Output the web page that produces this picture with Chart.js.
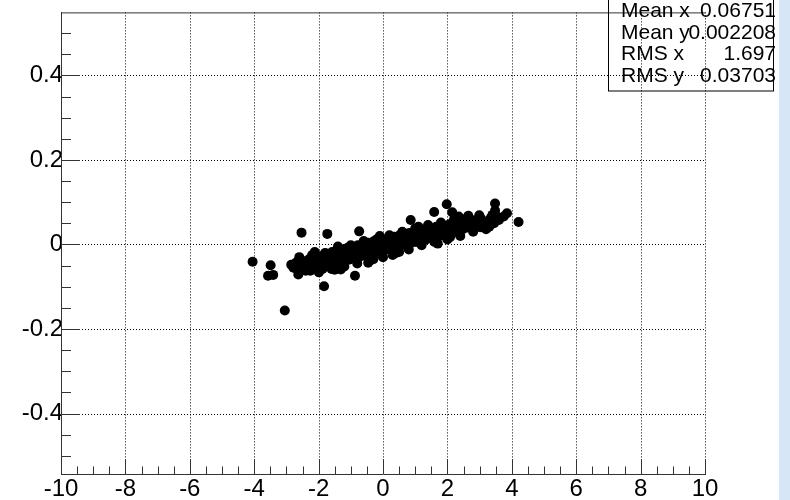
<!DOCTYPE html>
<html>
<head>
<meta charset="utf-8">
<script src="https://cdn.jsdelivr.net/npm/chart.js@4.4.0/dist/chart.umd.min.js"></script>
<style>
  html, body { margin: 0; padding: 0; background: #fff; }
  #wrap { position: relative; width: 790px; height: 500px; }
</style>
</head>
<body>
<div id="wrap"><canvas id="chart" width="790" height="500"></canvas></div>
<script>
// points (x, y pairs split into two lists)
const xValues = [
    -2.85, -2.78, -2.70, -2.65, -2.58, -2.52, -2.47, -2.40, -2.35, -2.30, -2.26, -2.20, -2.15, -2.10, -2.06,
    -2.00, -1.96, -1.92, -1.88, -1.83, -1.78, -1.74, -1.70, -1.66, -1.62, -1.58, -1.54, -1.50, -1.46, -1.42,
    -1.38, -1.34, -1.30, -1.26, -1.22, -1.18, -1.14, -1.10, -1.06, -1.02, -0.98, -0.94, -0.90, -0.86, -0.82,
    -0.78, -0.74, -0.70, -0.66, -0.62, -0.58, -0.54, -0.50, -0.46, -0.42, -0.38, -0.34, -0.30, -0.26, -0.22,
    -0.18, -0.14, -0.10, -0.06, -0.02, 0.02, 0.06, 0.10, 0.14, 0.18, 0.22, 0.26, 0.30, 0.34, 0.38,
    0.42, 0.46, 0.50, 0.54, 0.58, 0.62, 0.66, 0.70, 0.74, 0.78, 0.82, 0.86, 0.90, 0.94, 0.98,
    1.02, 1.06, 1.10, 1.14, 1.18, 1.22, 1.26, 1.30, 1.34, 1.38, 1.42, 1.46, 1.50, 1.55, 1.60,
    1.65, 1.70, 1.75, 1.80, 1.85, 1.90, 1.95, 2.00, 2.06, 2.12, 2.18, 2.24, 2.30, 2.36, 2.42,
    2.48, 2.55, 2.62, 2.70, 2.78, 2.86, 2.95, 3.05, 3.15, 3.25, 3.35, 3.45, 3.60, 3.75,
    -2.60, -2.40, -2.20, -2.00, -1.80, -1.60, -1.40, -1.20, -1.00, -0.80, -0.60, -0.40, -0.20, 0.00, 0.20,
    0.40, 0.60, 0.80, 1.00, 1.20, 1.40, 1.60, 1.80, 2.00, 2.20, 2.40, 2.60, 2.80, 3.00, 3.20,
    3.40, 3.30, -0.10, 0.50, 1.10, -1.50, -0.30, 1.70,
    -4.05, -3.49, -3.57, -3.41, -3.05, -2.53, -1.73, -0.74, 0.86, 1.59, 1.98, 2.15, 3.48, 3.48, 3.85,
    4.21, -1.83, -2.63, -0.87, -0.46, -1.31, -1.99, 0.30, 3.59, 2.96, -2.12, 2.35, 2.65, 2.99, 2.08, 3.02
];
const yValues = [
    -0.048, -0.055, -0.043, -0.060, -0.050, -0.038, -0.057, -0.045, -0.052, -0.035, -0.062, -0.041, -0.049, -0.030, -0.055,
    -0.038, -0.046, -0.028, -0.058, -0.035, -0.043, -0.022, -0.050, -0.031, -0.040, -0.018, -0.047, -0.027, -0.036, -0.015,
    -0.044, -0.024, -0.032, -0.012, -0.040, -0.020, -0.029, -0.008, -0.036, -0.017, -0.026, -0.005, -0.033, -0.014, -0.022,
    -0.002, -0.030, -0.010, -0.019, 0.001, -0.026, -0.007, -0.016, 0.004, -0.023, -0.004, -0.012, 0.007, -0.020, -0.001,
    -0.009, 0.010, -0.016, 0.002, -0.006, 0.012, -0.013, 0.005, -0.003, 0.015, -0.010, 0.008, 0.000, 0.018, -0.006,
    0.011, 0.003, 0.021, -0.003, 0.014, 0.006, 0.024, 0.000, 0.017, 0.009, 0.027, 0.003, 0.020, 0.012, 0.030,
    0.006, 0.023, 0.015, 0.033, 0.009, 0.026, 0.018, 0.036, 0.012, 0.029, 0.021, 0.039, 0.015, 0.032, 0.024,
    0.042, 0.018, 0.035, 0.027, 0.045, 0.021, 0.038, 0.030, 0.048, 0.024, 0.041, 0.033, 0.051, 0.028, 0.044,
    0.036, 0.054, 0.040, 0.047, 0.057, 0.043, 0.050, 0.060, 0.046, 0.055, 0.063, 0.050, 0.058, 0.066,
    -0.030, -0.062, -0.025, -0.064, -0.020, -0.058, -0.005, -0.052, -0.002, -0.045, 0.008, -0.038, 0.012, -0.030, 0.022,
    -0.020, 0.030, -0.012, 0.038, -0.002, 0.046, 0.006, 0.052, 0.012, 0.058, 0.020, 0.062, 0.030, 0.066, 0.036,
    0.070, 0.042, 0.020, -0.018, 0.042, -0.060, -0.035, 0.002,
    -0.041, -0.049, -0.074, -0.072, -0.156, 0.028, 0.025, 0.031, 0.058, 0.077, 0.095, 0.076, 0.097, 0.080, 0.074,
    0.053, -0.099, -0.071, -0.074, -0.043, -0.059, -0.066, -0.025, 0.064, 0.057, -0.018, 0.066, 0.068, 0.069, 0.017, 0.041
];
const xTicks = [-10, -8, -6, -4, -2, 0, 2, 4, 6, 8, 10];
const yTicks = [-0.4, -0.2, 0, 0.2, 0.4];
const statsLabels = ['Mean x', 'Mean y', 'RMS x', 'RMS y'];
const statsValues = ['0.06751', '0.002208', '1.697', '0.03703'];

const FONT = '"Liberation Sans", Arial, Helvetica, sans-serif';
const points = xValues.map((x, i) => ({x: x, y: yValues[i]}));

// white page, blue strip on the right edge, dotted grid under the markers
const backdrop = {
    id: 'backdrop',
    beforeDraw(chart) {
        const ctx = chart.ctx;
        ctx.save();
        ctx.fillStyle = '#ffffff';
        ctx.fillRect(0, 0, chart.width, chart.height);
        ctx.fillStyle = '#d6e6f7';
        ctx.fillRect(779, 0, chart.width - 779, chart.height);
        ctx.restore();
    },
    beforeDatasetsDraw(chart) {
        const ctx = chart.ctx;
        const xs = chart.scales.x, ys = chart.scales.y;
        const a = chart.chartArea;
        ctx.save();
        ctx.strokeStyle = '#000';
        ctx.lineWidth = 1;
        ctx.setLineDash([1, 2]);
        ctx.beginPath();
        xTicks.forEach(v => {
            if (v === xs.min) return;
            const px = Math.round(xs.getPixelForValue(v)) + 0.5;
            ctx.moveTo(px, a.top);
            ctx.lineTo(px, a.bottom);
        });
        yTicks.forEach(v => {
            const py = Math.round(ys.getPixelForValue(v)) + 0.5;
            ctx.moveTo(a.left, py);
            ctx.lineTo(a.right, py);
        });
        ctx.stroke();
        ctx.restore();
    }
};

// inner tick marks, top frame line and the stats box
const decor = {
    id: 'decor',
    afterDraw(chart) {
        const ctx = chart.ctx;
        const xs = chart.scales.x, ys = chart.scales.y;
        const a = chart.chartArea;
        ctx.save();
        ctx.strokeStyle = '#333';
        ctx.lineWidth = 1;
        ctx.beginPath();
        for (let v = xs.min; v <= xs.max + 1e-9; v += 0.5) {
            const px = Math.round(xs.getPixelForValue(v)) + 0.5;
            const major = Math.abs(v / 2 - Math.round(v / 2)) < 1e-6;
            ctx.moveTo(px, a.bottom);
            ctx.lineTo(px, a.bottom - (major ? 15 : 7.5));
        }
        const yStart = Math.ceil(ys.min / 0.05) * 0.05;
        for (let v = yStart; v <= ys.max + 1e-9; v += 0.05) {
            const py = Math.round(ys.getPixelForValue(v)) + 0.5;
            const major = Math.abs(v / 0.2 - Math.round(v / 0.2)) < 1e-6;
            ctx.moveTo(a.left, py);
            ctx.lineTo(a.left + (major ? 19 : 10), py);
        }
        // top frame
        ctx.moveTo(a.left, a.top + 0.5);
        ctx.lineTo(a.right, a.top + 0.5);
        ctx.stroke();

        // stats box
        ctx.strokeStyle = '#000';
        ctx.strokeRect(608.5, -1, 165, 92);
        ctx.fillStyle = '#000';
        ctx.font = '21px ' + FONT;
        ctx.textBaseline = 'alphabetic';
        const baselines = [17, 38.5, 60, 81.5];
        statsLabels.forEach((t, i) => {
            ctx.textAlign = 'left';
            ctx.fillText(t, 621, baselines[i]);
            ctx.textAlign = 'right';
            ctx.fillText(statsValues[i], 776, baselines[i]);
        });
        ctx.restore();
    }
};

new Chart(document.getElementById('chart'), {
    type: 'scatter',
    data: {
        datasets: [{
            data: points,
            backgroundColor: '#000',
            borderWidth: 0,
            pointRadius: 5,
            pointHoverRadius: 5
        }]
    },
    options: {
        responsive: false,
        animation: false,
        devicePixelRatio: 1,
        layout: { padding: { top: 7, right: 85, left: 0, bottom: 0 } },
        plugins: { legend: { display: false }, tooltip: { enabled: false } },
        scales: {
            x: {
                type: 'linear',
                min: -10,
                max: 10,
                afterBuildTicks: s => { s.ticks = xTicks.map(v => ({value: v})); },
                afterFit: s => { s.height = 26; },
                grid: { display: false, drawTicks: false },
                border: { display: true, color: '#333', width: 1 },
                ticks: {
                    color: '#000',
                    padding: 1,
                    font: { family: FONT, size: 24 },
                    maxRotation: 0,
                    autoSkip: false,
                    callback: v => String(v)
                }
            },
            y: {
                type: 'linear',
                min: -0.543,
                max: 0.549,
                afterBuildTicks: s => { s.ticks = yTicks.map(v => ({value: v})); },
                afterFit: s => { s.width = 61; },
                grid: { display: false, drawTicks: false },
                border: { display: true, color: '#333', width: 1 },
                ticks: {
                    color: '#000',
                    padding: -2,
                    font: { family: FONT, size: 24 },
                    autoSkip: false,
                    callback: v => String(v)
                }
            }
        }
    },
    plugins: [backdrop, decor]
});
</script>
</body>
</html>
